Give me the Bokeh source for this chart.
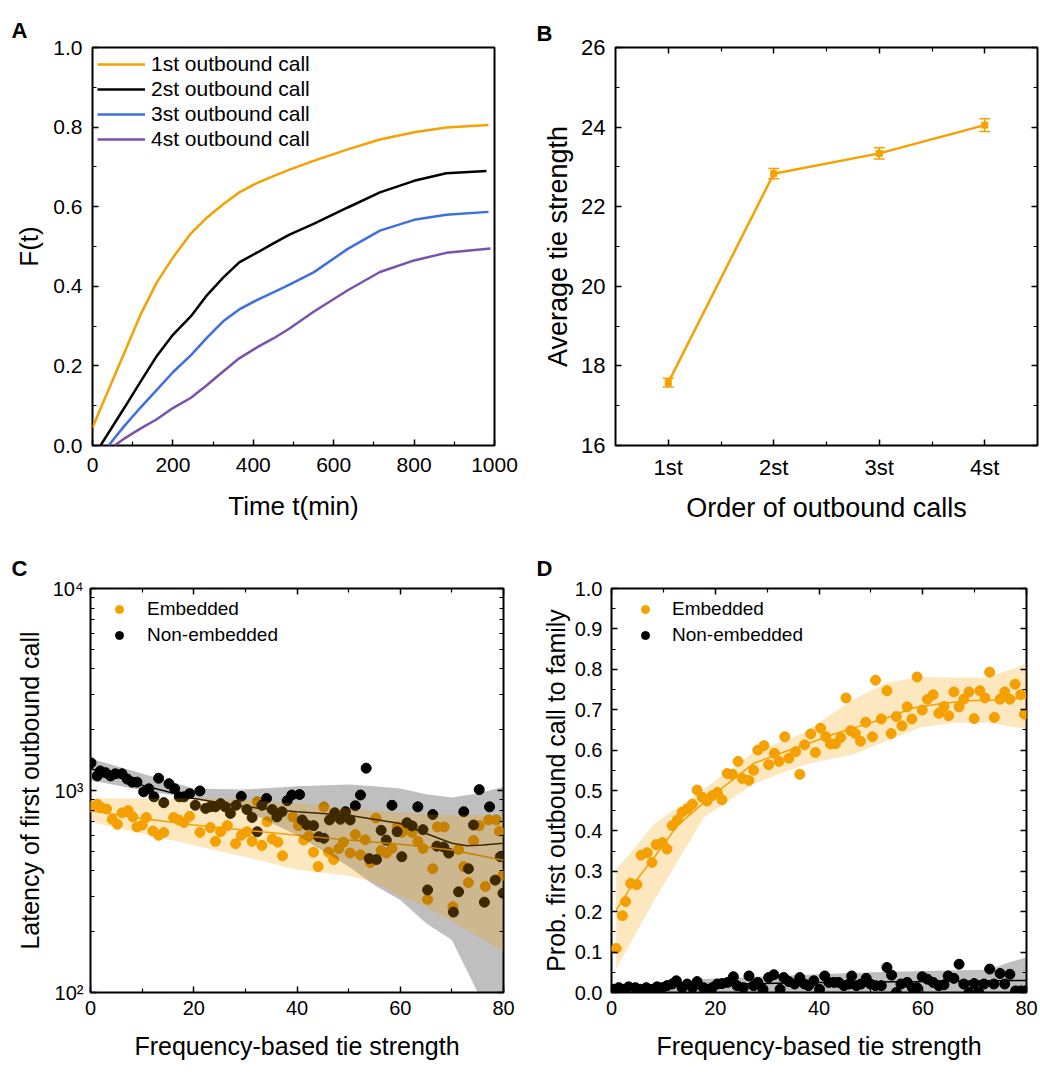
import math
from bokeh.plotting import figure
from bokeh.models import (LinearAxis, LogAxis, FixedTicker, Title, Range1d,
                          Whisker, TeeHead, ColumnDataSource, CustomJSTickFormatter,
                          PrintfTickFormatter)
from bokeh.layouts import row, column
from bokeh.embed import file_html
from bokeh.resources import INLINE

FONT = "Liberation Sans"
ORANGE = "#F5A100"
BLACK = "#000000"
BLUE = "#3E6FE2"
PURPLE = "#7A52AC"

# ---------------- Panel A data: F(t) ----------------
call_names = ["1st outbound call", "2st outbound call", "3st outbound call", "4st outbound call"]
t_1st = [0, 40, 80, 120, 160, 200, 245, 285, 325, 365, 410, 450, 490, 550, 635, 715, 800, 880, 985]
F_1st = [0.045, 0.14, 0.235, 0.33, 0.41, 0.472, 0.533, 0.573, 0.606, 0.636, 0.66, 0.677, 0.693,
         0.715, 0.744, 0.769, 0.787, 0.799, 0.805]
t_2st = [20, 80, 120, 160, 200, 245, 285, 325, 365, 410, 450, 490, 550, 635, 715, 800, 880, 980]
F_2st = [0.0, 0.096, 0.161, 0.225, 0.278, 0.325, 0.378, 0.422, 0.460, 0.485, 0.508, 0.53, 0.557,
         0.598, 0.636, 0.665, 0.684, 0.69]
t_3st = [40, 80, 120, 160, 200, 245, 285, 325, 365, 410, 450, 490, 550, 635, 715, 800, 880, 985]
F_3st = [0.0, 0.05, 0.096, 0.14, 0.184, 0.227, 0.271, 0.312, 0.342, 0.366, 0.385, 0.404, 0.435,
         0.494, 0.54, 0.567, 0.58, 0.587]
t_4st = [55, 80, 120, 160, 200, 245, 285, 325, 365, 410, 450, 490, 550, 635, 715, 800, 880, 990]
F_4st = [0.0, 0.018, 0.043, 0.066, 0.094, 0.12, 0.152, 0.186, 0.219, 0.247, 0.269, 0.294, 0.336,
         0.39, 0.436, 0.465, 0.484, 0.495]

# ---------------- Panel B data ----------------
orders = ["1st", "2st", "3st", "4st"]
avg_tie = [17.58, 22.83, 23.34, 24.05]
avg_err = [0.11, 0.13, 0.14, 0.16]

# ---------------- Panel C data (latency) ----------------
emb_c_x = [0.1, 1.3, 1.9, 3.1, 4.2, 5.2, 6.1, 7.3, 8.2, 9.0, 10.0, 10.8, 12.1, 13.2, 14.2, 16.1, 17.1,
           18.1, 19.2, 21.2, 23.2, 24.2, 25.2, 26.5, 28.1, 29.2, 30.3, 31.3, 32.3, 33.2, 34.2, 35.2,
           36.3, 37.2, 39.2, 40.3, 41.3, 42.3, 43.2, 44.1, 45.2, 46.1, 47.1, 48.1, 49.0, 50.3, 51.3,
           52.3, 53.2, 54.2, 55.3, 56.3, 57.3, 58.4, 59.4, 60.3, 61.3, 62.3, 63.4, 64.4, 65.3, 66.3,
           67.2, 68.5, 69.4, 70.2, 71.3, 72.3, 73.2, 74.2, 75.3, 76.5, 77.1, 78.6, 79.2, 79.9]
emb_c_y = [830, 855, 830, 810, 720, 680, 775, 795, 740, 660, 675, 735, 630, 600, 620, 735, 715,
           695, 745, 620, 655, 560, 625, 670, 545, 600, 625, 560, 880, 535, 700, 575,
           555, 475, 740, 670, 568, 595, 495, 420, 830, 495, 455, 516, 555, 490, 605,
           480, 570, 440, 730, 505, 490, 516, 660, 620, 640, 620, 560, 516, 289, 410,
           660, 660, 490, 266, 510, 420, 350, 565, 670, 335, 715, 715, 628, 381]
ne_c_x = [0.1, 1.3, 1.9, 2.9, 3.9, 4.8, 6.1, 7.1, 8.1, 9.0, 10.3, 11.3, 12.3, 13.2, 14.2, 15.2, 16.3,
          17.2, 18.1, 19.2, 20.3, 21.2, 22.3, 23.2, 24.2, 25.2, 26.1, 27.1, 28.2, 29.2, 30.3, 31.3,
          32.3, 33.2, 34.1, 35.2, 36.1, 37.1, 38.1, 39.0, 40.5, 41.0, 41.9, 43.2, 44.2, 45.2, 46.3,
          47.3, 48.4, 49.4, 50.3, 51.3, 52.3, 53.4, 54.0, 55.4, 56.3, 57.3, 58.4, 59.4, 60.3, 61.3,
          62.3, 63.4, 64.4, 65.3, 66.3, 67.1, 68.4, 69.4, 70.3, 71.3, 72.3, 73.2, 74.2, 75.3, 76.3,
          77.3, 78.4, 79.4, 79.9]
ne_c_y = [1370, 1180, 1250, 1225, 1180, 1210, 1210, 1140, 1100, 1100, 985, 1020, 930, 1150, 870,
          1080, 1020, 930, 930, 965, 845, 995, 815, 830, 830, 860, 830, 770, 845, 935, 805, 735,
          625, 845, 913, 805, 740, 785, 890, 950, 955, 715, 675, 670, 590, 580, 715, 775, 720,
          785, 715, 840, 950, 1290, 460, 455, 635, 568, 845, 625, 470, 692, 668, 830, 640, 322,
          760, 530, 525, 490, 250, 315, 785, 410, 675, 1010, 280, 830, 360, 470, 310]
c_band_x = [0, 10, 20, 30, 40, 50, 55, 60, 65, 70, 75, 80]
emb_c_hi = [913, 913, 913, 902, 862, 814, 795, 775, 762, 755, 755, 755]
emb_c_lo = [700, 613, 536, 469, 405, 378, 350, 300, 265, 225, 190, 159]
ne_c_hi = [1440, 1213, 1023, 1012, 1051, 1071, 1051, 1023, 959, 924, 966, 1043]
ne_c_lo = [1125, 1004, 913, 799, 600, 420, 340, 287, 220, 182, 100, 40]
c_fit_x = [0, 10, 20, 30, 40, 50, 60, 70, 80]
emb_c_fit = [793, 727, 674, 636, 601, 568, 542, 507, 452]
ne_c_fit_x = [0, 10, 20, 30, 40, 50, 60, 65, 70, 73, 76, 80]
ne_c_fit = [1285, 1063, 913, 830, 785, 755, 687, 613, 548, 533, 537, 548]

# ---------------- Panel D data (prob. family) ----------------
emb_d_x = [0.9, 2.1, 2.7, 3.7, 4.9, 5.7, 6.9, 7.8, 8.6, 9.8, 10.7, 11.7, 12.7, 13.6, 14.6, 15.6, 16.5,
           17.5, 18.4, 19.4, 20.4, 21.3, 22.3, 23.3, 24.4, 25.2, 26.5, 27.4, 28.2, 29.4, 30.3, 31.4,
           32.3, 33.4, 34.2, 35.5, 36.3, 37.2, 38.4, 39.3, 40.3, 41.3, 42.2, 43.2, 44.2, 45.2, 46.1,
           47.0, 48.0, 49.0, 50.3, 50.9, 52.0, 53.1, 53.9, 54.9, 56.0, 57.0, 57.9, 58.9, 59.9, 60.9,
           62.0, 63.1, 64.1, 65.0, 66.0, 67.0, 67.9, 68.9, 69.9, 71.0, 72.0, 72.9, 73.8, 74.9, 75.8,
           76.8, 77.8, 78.9, 79.6]
emb_d_y = [0.109, 0.190, 0.225, 0.270, 0.267, 0.340, 0.346, 0.322, 0.366, 0.371, 0.355, 0.413, 0.427,
           0.446, 0.454, 0.466, 0.501, 0.483, 0.474, 0.487, 0.495, 0.477, 0.542, 0.540, 0.572, 0.530,
           0.525, 0.550, 0.600, 0.611, 0.564, 0.592, 0.572, 0.633, 0.580, 0.596, 0.540, 0.613, 0.640,
           0.594, 0.654, 0.633, 0.615, 0.616, 0.631, 0.729, 0.648, 0.641, 0.622, 0.669, 0.633, 0.773,
           0.677, 0.747, 0.641, 0.683, 0.660, 0.707, 0.677, 0.781, 0.699, 0.726, 0.737, 0.691, 0.708,
           0.685, 0.744, 0.707, 0.726, 0.744, 0.678, 0.747, 0.729, 0.793, 0.681, 0.726, 0.744, 0.726,
           0.763, 0.737, 0.689]
ne_d_x = [0.45, 1.4, 2.4, 3.3, 4.6, 5.6, 6.7, 7.8, 8.8, 9.8, 10.7, 11.7, 12.5, 13.6, 14.6, 15.6, 16.5,
          17.7, 18.4, 19.4, 20.4, 21.3, 22.4, 23.5, 24.2, 25.4, 26.5, 27.4, 28.2, 29.2, 30.3, 31.3,
          32.5, 33.2, 34.2, 35.3, 36.3, 37.2, 38.0, 39.0, 40.1, 41.1, 41.9, 42.9, 43.8, 44.8, 45.8,
          46.3, 47.2, 48.1, 49.1, 49.9, 50.9, 52.0, 53.1, 54.0, 54.9, 55.8, 57.0, 58.0, 58.9, 59.9,
          60.9, 62.0, 63.1, 64.1, 64.9, 66.0, 67.0, 67.9, 68.9, 69.9, 70.8, 71.8, 72.9, 73.7, 74.9,
          75.8, 76.8, 77.9, 78.9, 79.8]
ne_d_y = [0.008, 0.012, 0.008, 0.014, 0.012, 0.008, 0.012, 0.008, 0.014, 0.012, 0.017, 0.021, 0.029,
          0.012, 0.021, 0.012, 0.027, 0.012, 0.008, 0.012, 0.021, 0.022, 0.025, 0.039, 0.017, 0.012,
          0.041, 0.017, 0.025, 0.008, 0.037, 0.044, 0.008, 0.037, 0.027, 0.021, 0.037, 0.021, 0.017,
          0.029, 0.008, 0.041, 0.025, 0.025, 0.025, 0.017, 0.021, 0.041, 0.017, 0.021, 0.035, 0.021,
          0.017, 0.017, 0.062, 0.043, 0.0, 0.021, 0.025, 0.012, 0.012, 0.039, 0.033, 0.025, 0.017,
          0.019, 0.041, 0.035, 0.070, 0.021, 0.0, 0.022, 0.0, 0.021, 0.058, 0.021, 0.047, 0.021,
          0.045, 0.004, 0.004, 0.004]
d_band_x = [0.9, 3.7, 8.2, 17.8, 27.4, 37.1, 46.7, 53.1, 59.6, 66.0, 72.4, 80]
emb_d_hi = [0.305, 0.345, 0.417, 0.503, 0.594, 0.643, 0.726, 0.767, 0.781, 0.78, 0.78, 0.813]
emb_d_lo = [0.058, 0.124, 0.227, 0.433, 0.516, 0.564, 0.59, 0.623, 0.656, 0.668, 0.668, 0.652]
d_fit_x = [0.9, 3.7, 8.2, 12.7, 17.8, 22.3, 27.4, 32.6, 37.7, 42.9, 48, 53.1, 58.3, 63.4, 68.6, 73.7, 80]
emb_d_fit = [0.204, 0.26, 0.334, 0.413, 0.47, 0.516, 0.567, 0.592, 0.615, 0.64, 0.66, 0.68, 0.705,
             0.715, 0.722, 0.724, 0.73]
ne_d_band_x = [0, 10, 16, 17, 30, 50, 60, 70, 73, 76, 80]
ne_d_hi = [0.015, 0.018, 0.022, 0.033, 0.04, 0.05, 0.053, 0.056, 0.057, 0.072, 0.087]
ne_d_lo = [0.0, 0.0, 0.0, 0.0, 0.0, 0.0, 0.0, 0.0, 0.0, 0.0, 0.0]
ne_d_fit_x = [0, 20, 40, 60, 80]
ne_d_fit = [0.012, 0.02, 0.025, 0.027, 0.03]

EMPTY_FMT = "return ''"


def base_fig(w, h, xr, yr, bl, br, bt, bb, letter, letter_offset, letter_standoff, y_log=False):
    kw = dict(width=w, height=h, x_range=xr, y_range=yr, output_backend="svg",
              toolbar_location=None, min_border_left=bl, min_border_right=br,
              min_border_top=bt, min_border_bottom=bb)
    if y_log:
        kw["y_axis_type"] = "log"
    p = figure(**kw)
    p.title = Title(text=letter, align="left", vertical_align="top", offset=letter_offset,
                    standoff=letter_standoff, text_font=FONT, text_font_size="22px",
                    text_font_style="bold", text_color="black")
    p.grid.visible = False
    p.outline_line_color = "black"
    p.outline_line_width = 2
    p.outline_line_alpha = 1.0
    p.background_fill_color = "white"
    p.border_fill_color = "white"
    return p


def style_axis(ax, ticker, tick_size, standoff, label="", label_size=25, label_standoff=5,
               fmt=None, hidden=False):
    ax.ticker = ticker
    if hidden:
        ax.formatter = CustomJSTickFormatter(code=EMPTY_FMT)
    elif fmt is not None:
        ax.formatter = fmt
    ax.axis_line_color = None
    ax.major_tick_in = 6
    ax.major_tick_out = 0
    ax.minor_tick_in = 4
    ax.minor_tick_out = 0
    ax.major_tick_line_width = 1.5
    ax.minor_tick_line_width = 1.2
    ax.major_tick_line_color = "black"
    ax.minor_tick_line_color = "black"
    ax.major_label_text_font = FONT
    if hidden:
        ax.major_label_text_font_size = "1px"
        ax.major_label_standoff = 0
    else:
        ax.major_label_text_color = "black"
        ax.major_label_text_font_size = f"{tick_size}px"
        ax.major_label_standoff = standoff
    if label:
        ax.axis_label = label
        ax.axis_label_text_font = FONT
        ax.axis_label_text_font_style = "normal"
        ax.axis_label_text_font_size = f"{label_size}px"
        ax.axis_label_text_color = "black"
        ax.axis_label_standoff = label_standoff


def style_legend(lg, font_size, margin, padding, glyph_w, standoff, spacing):
    lg.location = "top_left"
    lg.margin = margin
    lg.padding = padding
    lg.spacing = spacing
    lg.glyph_width = glyph_w
    lg.glyph_height = 20
    lg.label_height = 20
    lg.label_standoff = standoff
    lg.label_text_font = FONT
    lg.label_text_font_size = f"{font_size}px"
    lg.label_text_color = "black"
    lg.border_line_color = None
    lg.background_fill_alpha = 0


# ================= Panel A =================
pa = base_fig(520, 530, Range1d(0, 1000), Range1d(0, 1.0), 92, 26, 44, 85, "A", -81, 6)
style_axis(pa.xaxis[0], FixedTicker(ticks=[0, 200, 400, 600, 800, 1000],
                                    minor_ticks=[100, 300, 500, 700, 900]), 21, 12,
           label="Time t(min)", label_size=26, label_standoff=16)
style_axis(pa.yaxis[0], FixedTicker(ticks=[0, 0.2, 0.4, 0.6, 0.8, 1.0],
                                    minor_ticks=[0.1, 0.3, 0.5, 0.7, 0.9]), 21, 10,
           label="F(t)", label_size=26, label_standoff=6,
           fmt=PrintfTickFormatter(format="%.1f"))
series_a = [(t_1st, F_1st, ORANGE), (t_2st, F_2st, BLACK), (t_3st, F_3st, BLUE), (t_4st, F_4st, PURPLE)]
for (tt, ff, col), name in zip(series_a, call_names):
    pa.line(tt, ff, line_color=col, line_width=2.5, legend_label=name)
style_legend(pa.legend[0], 21, 5, 2, 48, 6, 1)

# ================= Panel B =================
xs_b = list(range(1, len(orders) + 1))
pb = base_fig(520, 530, Range1d(0.5, 4.5), Range1d(16, 26), 95, 3, 47, 85, "B", -79, 0)
style_axis(pb.xaxis[0], FixedTicker(ticks=xs_b, minor_ticks=[1.5, 2.5, 3.5]), 22, 9,
           label="Order of outbound calls", label_size=27, label_standoff=10)
pb.xaxis[0].major_label_overrides = {x: o for x, o in zip(xs_b, orders)}
style_axis(pb.yaxis[0], FixedTicker(ticks=[16, 18, 20, 22, 24, 26], minor_ticks=[17, 19, 21, 23, 25]),
           22, 10, label="Average tie strength", label_size=27, label_standoff=5)
ax_r = LinearAxis()
style_axis(ax_r, FixedTicker(ticks=[16, 18, 20, 22, 24, 26], minor_ticks=[17, 19, 21, 23, 25]),
           22, 0, hidden=True)
pb.add_layout(ax_r, "right")
ax_t = LinearAxis()
style_axis(ax_t, FixedTicker(ticks=xs_b, minor_ticks=[1.5, 2.5, 3.5]), 22, 0, hidden=True)
pb.add_layout(ax_t, "above")
src_b = ColumnDataSource(dict(x=xs_b, y=avg_tie,
                              lo=[v - e for v, e in zip(avg_tie, avg_err)],
                              hi=[v + e for v, e in zip(avg_tie, avg_err)]))
pb.line("x", "y", source=src_b, line_color=ORANGE, line_width=2.5)
pb.add_layout(Whisker(source=src_b, base="x", lower="lo", upper="hi", line_color=ORANGE,
                      line_width=1.5,
                      lower_head=TeeHead(size=11, line_color=ORANGE, line_width=1.5),
                      upper_head=TeeHead(size=11, line_color=ORANGE, line_width=1.5)))
pb.scatter("x", "y", source=src_b, marker="square", size=6, color=ORANGE)

# ================= Panel C =================
pc = base_fig(520, 544, Range1d(0, 80), Range1d(100, 10000), 90, 17, 58, 82, "C", -79, 11,
              y_log=True)
minor_log = [200, 300, 400, 500, 600, 700, 800, 900, 2000, 3000, 4000, 5000, 6000, 7000, 8000, 9000]
sup_fmt = CustomJSTickFormatter(code="""
const e = Math.round(Math.log10(tick));
const sup = {0:'\u2070',1:'\u00b9',2:'\u00b2',3:'\u00b3',4:'\u2074',5:'\u2075'};
return '10' + (sup[e] || e);
""")
style_axis(pc.xaxis[0], FixedTicker(ticks=[0, 20, 40, 60, 80], minor_ticks=[10, 30, 50, 70]), 20, 8,
           label="Frequency-based tie strength", label_size=25, label_standoff=14)
style_axis(pc.yaxis[0], FixedTicker(ticks=[100, 1000, 10000], minor_ticks=minor_log), 20, 7,
           label="Latency of first outbound call", label_size=25, label_standoff=6, fmt=sup_fmt)
ax_r = LogAxis()
style_axis(ax_r, FixedTicker(ticks=[100, 1000, 10000], minor_ticks=minor_log), 20, 0, hidden=True)
pc.add_layout(ax_r, "right")
ax_t = LinearAxis()
style_axis(ax_t, FixedTicker(ticks=[0, 20, 40, 60, 80], minor_ticks=[10, 30, 50, 70]), 20, 0,
           hidden=True)
pc.add_layout(ax_t, "above")
pc.scatter(emb_c_x, emb_c_y, size=10, color=ORANGE, legend_label="Embedded")
pc.scatter(ne_c_x, ne_c_y, size=10, color=BLACK, legend_label="Non-embedded")
pc.line(c_fit_x, emb_c_fit, line_color=ORANGE, line_width=1.5)
pc.line(ne_c_fit_x, ne_c_fit, line_color=BLACK, line_width=1.5)
pc.varea(x=c_band_x, y1=ne_c_lo, y2=ne_c_hi, fill_color="black", fill_alpha=0.25)
pc.varea(x=c_band_x, y1=emb_c_lo, y2=emb_c_hi, fill_color=ORANGE, fill_alpha=0.25)
style_legend(pc.legend[0], 19, 10, 11, 38, 9, 4)

# ================= Panel D =================
pd_ = base_fig(520, 544, Range1d(0, 80), Range1d(0, 1.0), 91, 14, 58, 82, "D", -75, 11)
yt_d = [0, 0.1, 0.2, 0.3, 0.4, 0.5, 0.6, 0.7, 0.8, 0.9, 1.0]
ym_d = [0.05, 0.15, 0.25, 0.35, 0.45, 0.55, 0.65, 0.75, 0.85, 0.95]
style_axis(pd_.xaxis[0], FixedTicker(ticks=[0, 20, 40, 60, 80], minor_ticks=[10, 30, 50, 70]),
           20, 8, label="Frequency-based tie strength", label_size=25, label_standoff=14)
style_axis(pd_.yaxis[0], FixedTicker(ticks=yt_d, minor_ticks=ym_d), 20, 9,
           label="Prob. first outbound call to family", label_size=25, label_standoff=2,
           fmt=PrintfTickFormatter(format="%.1f"))
ax_r = LinearAxis()
style_axis(ax_r, FixedTicker(ticks=yt_d, minor_ticks=ym_d), 20, 0, hidden=True)
pd_.add_layout(ax_r, "right")
ax_t = LinearAxis()
style_axis(ax_t, FixedTicker(ticks=[0, 20, 40, 60, 80], minor_ticks=[10, 30, 50, 70]), 20, 0,
           hidden=True)
pd_.add_layout(ax_t, "above")
pd_.scatter(emb_d_x, emb_d_y, size=10, color=ORANGE, legend_label="Embedded")
pd_.scatter(ne_d_x, ne_d_y, size=10, color=BLACK, legend_label="Non-embedded")
pd_.line(d_fit_x, emb_d_fit, line_color=ORANGE, line_width=1.5)
pd_.line(ne_d_fit_x, ne_d_fit, line_color=BLACK, line_width=1.5)
pd_.varea(x=ne_d_band_x, y1=ne_d_lo, y2=ne_d_hi, fill_color="black", fill_alpha=0.25)
pd_.varea(x=d_band_x, y1=emb_d_lo, y2=emb_d_hi, fill_color=ORANGE, fill_alpha=0.25)
style_legend(pd_.legend[0], 19, 10, 11, 48, 3, 4)

layout = column(row(pa, pb), row(pc, pd_))
open("out.html", "w").write(file_html(layout, INLINE, title="chart"))
